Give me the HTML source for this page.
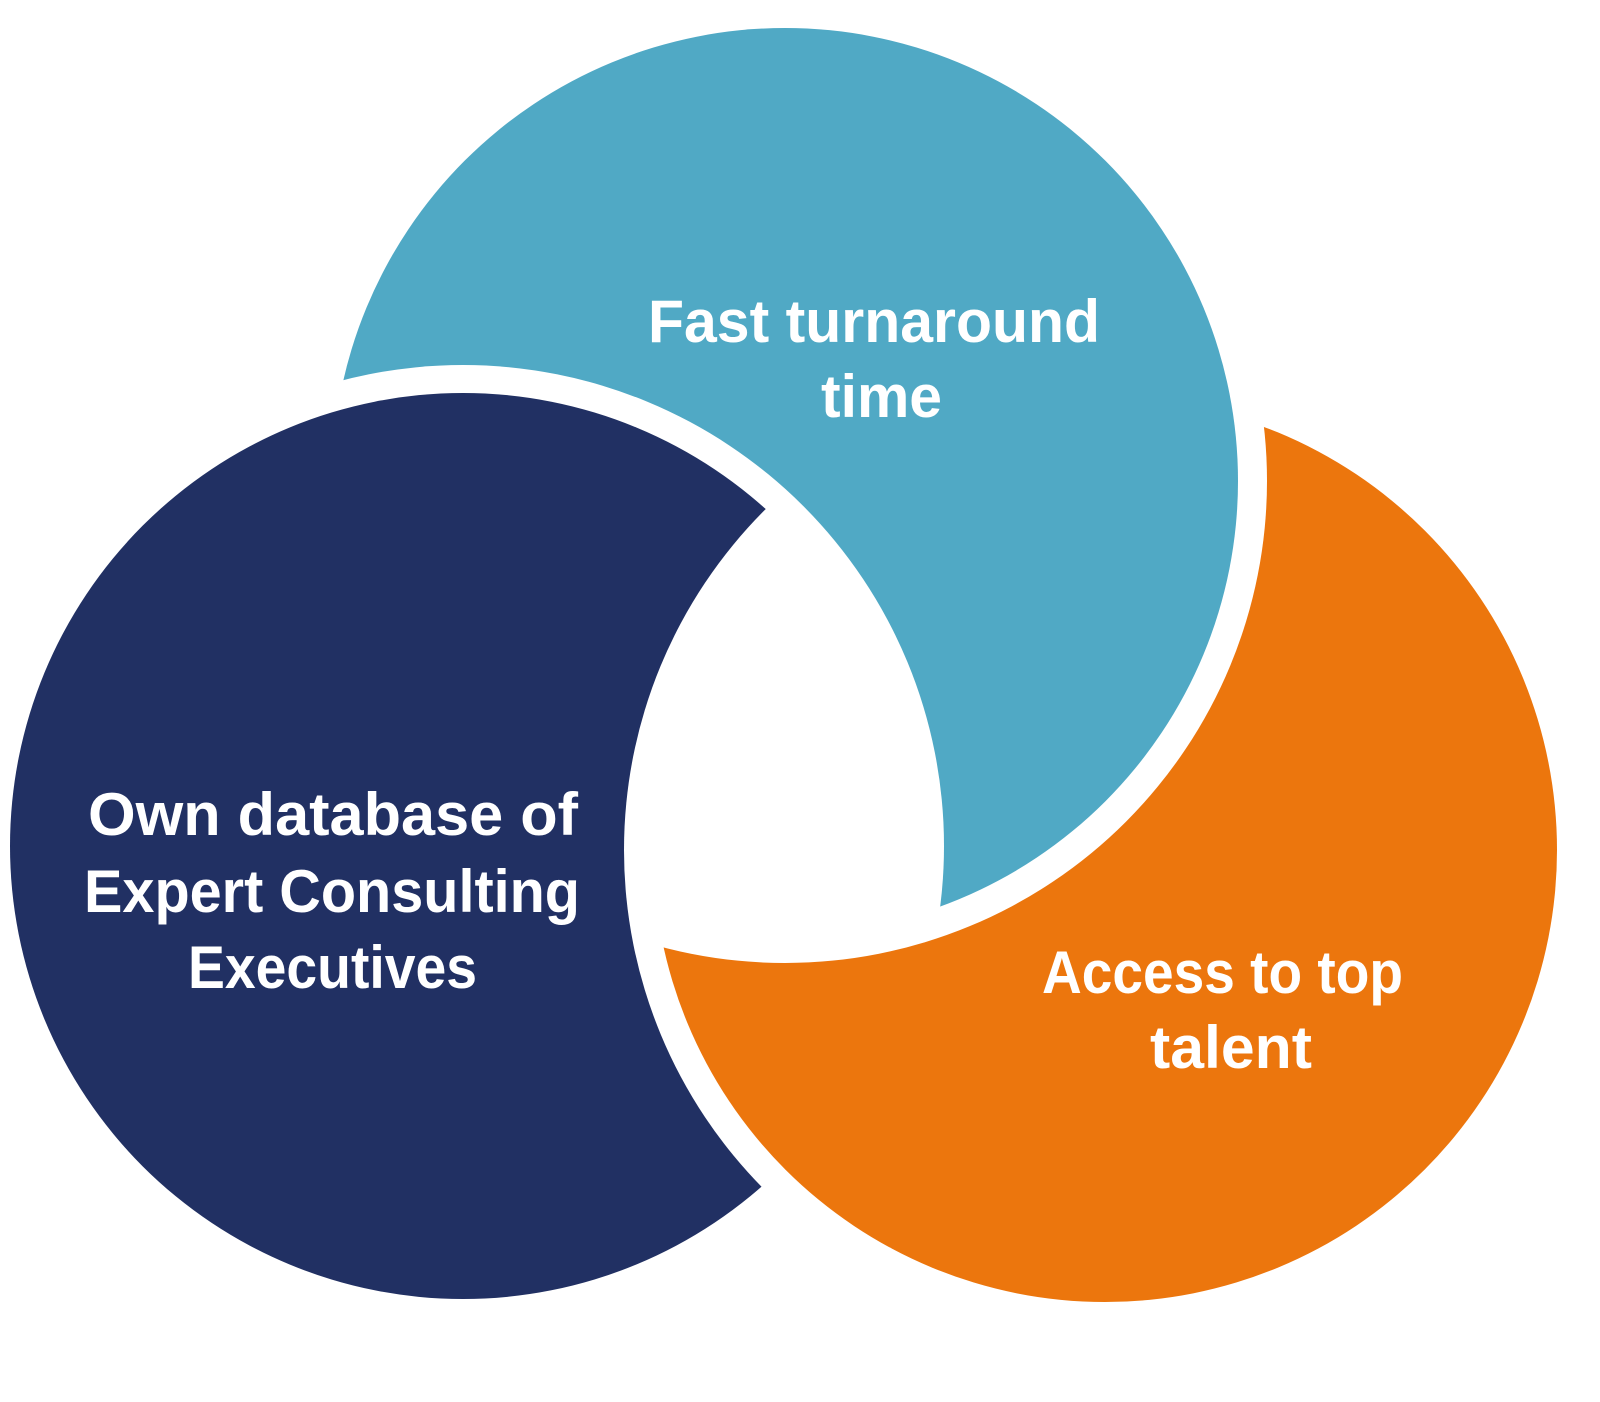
<!DOCTYPE html>
<html><head><meta charset="utf-8"><style>html,body{margin:0;padding:0;background:#fff}svg{display:block}</style></head>
<body>
<svg width="1600" height="1402" viewBox="0 0 1600 1402" xmlns="http://www.w3.org/2000/svg">
<defs>
<mask id="mNavy"><rect width="1600" height="1402" fill="#fff"/><circle cx="1105" cy="850" r="481" fill="#000"/></mask>
<mask id="mOrange"><rect width="1600" height="1402" fill="#fff"/><circle cx="785" cy="481" r="482" fill="#000"/></mask>
<mask id="mBlue"><rect width="1600" height="1402" fill="#fff"/><circle cx="463" cy="846" r="481" fill="#000"/></mask>
</defs>
<circle cx="463" cy="846" r="453" fill="#213063" mask="url(#mNavy)"/>
<circle cx="1105" cy="850" r="452" fill="#EC760D" mask="url(#mOrange)"/>
<circle cx="785" cy="481" r="453" fill="#50A9C5" mask="url(#mBlue)"/>
<g font-family="Liberation Sans, sans-serif" font-weight="bold" font-size="60" fill="#fff">
<text x="648" y="342" textLength="452" lengthAdjust="spacingAndGlyphs">Fast turnaround</text>
<text x="821" y="417" textLength="121" lengthAdjust="spacingAndGlyphs">time</text>
<text x="88" y="835" textLength="490" lengthAdjust="spacingAndGlyphs">Own database of</text>
<text x="84" y="912" textLength="496" lengthAdjust="spacingAndGlyphs">Expert Consulting</text>
<text x="188" y="988" textLength="289" lengthAdjust="spacingAndGlyphs">Executives</text>
<text x="1042" y="993" textLength="361" lengthAdjust="spacingAndGlyphs">Access to top</text>
<text x="1150" y="1068" textLength="162" lengthAdjust="spacingAndGlyphs">talent</text>
</g>
</svg>
</body></html>
